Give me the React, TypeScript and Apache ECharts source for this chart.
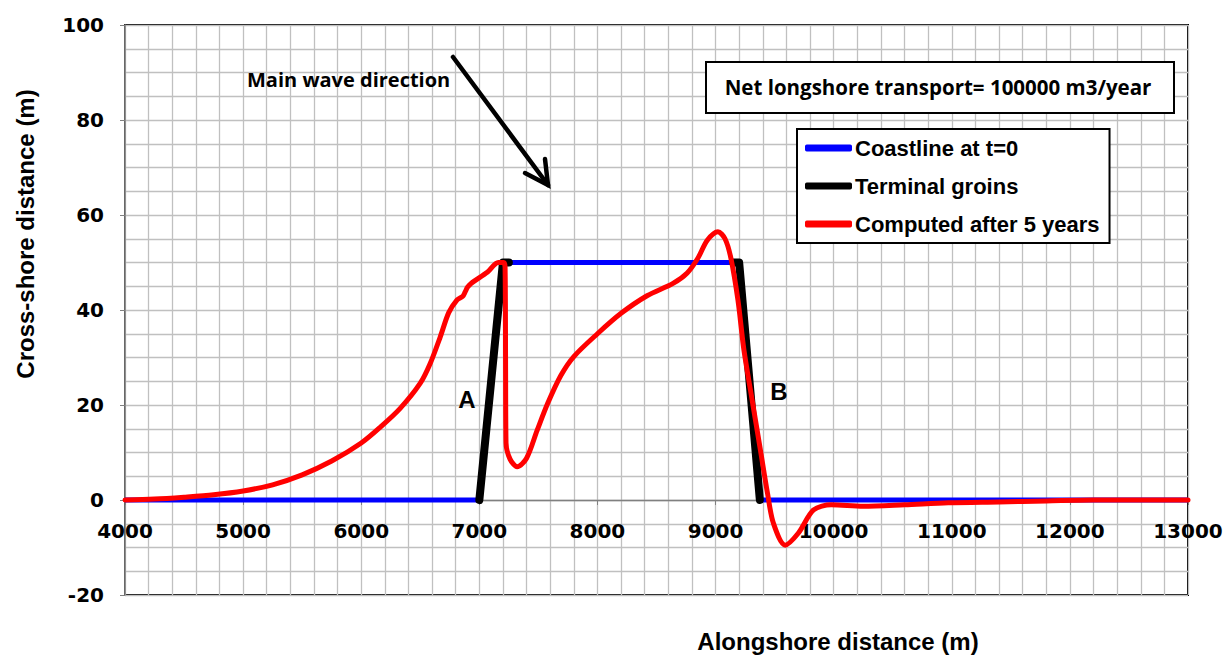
import React, { useEffect, useRef } from "react";
import * as echarts from "echarts";

const xTicks = { min: 4000, max: 13000, interval: 1000 };
const yTicks = { min: -20, max: 100, interval: 20 };

const coastlineT0: [number, number][] = [
  [4000, 0], [7000, 0], [7200, 50], [9200, 50], [9375, 0], [13000, 0],
];
const groinA: [number, number][] = [[7000, 0], [7200, 50], [7250, 50]];
const groinB: [number, number][] = [[9150, 50], [9200, 50], [9375, 0]];
const computed5y: [number, number][] = [
  [4000, 0], [4250, 0.2], [4500, 0.6], [4750, 1.1], [5000, 1.9], [5250, 3.2],
  [5500, 5.3], [5750, 8.2], [6000, 12], [6160, 15.3], [6330, 19.3], [6500, 24.6],
  [6585, 28.8], [6670, 34.4], [6740, 39.4], [6810, 42.1], [6860, 42.9], [6880, 43.8],
  [6900, 44.8], [6930, 45.6], [7070, 48], [7160, 50], [7205, 50], [7218, 49],
  [7222, 30], [7226, 12], [7260, 8.6], [7320, 7], [7400, 8.8], [7490, 14.7], [7580, 20.4],
  [7690, 26.2], [7800, 30.2], [8000, 35], [8200, 39.3], [8420, 43], [8640, 45.6],
  [8760, 47.8], [8850, 50.9], [8930, 54.7], [9020, 56.5], [9080, 55], [9130, 50.9],
  [9190, 42], [9240, 31.6], [9310, 21], [9380, 10.5], [9440, 1.4], [9490, -4.9],
  [9590, -9.5], [9700, -7], [9830, -2.1], [9980, -1], [10250, -1.3], [10600, -1],
  [10970, -0.6], [11400, -0.4], [11800, -0.2], [12200, 0], [13000, 0],
];

const seriesNames = ["Coastline at t=0", "Terminal groins", "Computed after 5 years"];
const seriesColors = ["#0000ff", "#000000", "#ff0000"];

const gridLine = { color: "#c0c0c0", width: 1.3 };

export default function App() {
  const ref = useRef<HTMLDivElement>(null);
  useEffect(() => {
    document.body.style.margin = "0";
    const chart = echarts.init(ref.current!, null, { renderer: "svg" });
    const axisFont = {
      fontFamily: "DejaVu Sans, sans-serif",
      fontWeight: "bold" as const,
      fontSize: 20,
      color: "#000",
    };
    chart.setOption({
      animation: false,
      backgroundColor: "#fff",
      grid: {
        left: 125, top: 25, right: 43, bottom: 60,
        show: true, borderColor: "#000", borderWidth: 2, backgroundColor: "#fff",
      },
      xAxis: {
        type: "value",
        min: xTicks.min, max: xTicks.max, interval: xTicks.interval,
        axisLine: { onZero: true, lineStyle: { color: "#808080", width: 1.3 } },
        axisTick: { show: true, length: 5, lineStyle: { color: "#808080" } },
        axisLabel: {
          ...axisFont, margin: -74, showMinLabel: true, showMaxLabel: true,
          formatter: (v: number) => String(v),
        },
        splitLine: { show: true, lineStyle: gridLine },
        minorTick: { show: false, splitNumber: 5 },
        minorSplitLine: { show: true, lineStyle: gridLine },
      },
      yAxis: {
        type: "value",
        min: yTicks.min, max: yTicks.max, interval: yTicks.interval,
        axisLine: { show: true, onZero: false, lineStyle: { color: "#808080", width: 1.5 } },
        axisTick: { show: true, length: 5, lineStyle: { color: "#808080" } },
        axisLabel: { ...axisFont, margin: 21 },
        splitLine: { show: true, lineStyle: gridLine },
        minorTick: { show: false, splitNumber: 4 },
        minorSplitLine: { show: true, lineStyle: gridLine },
      },
      legend: {
        left: 797, top: 129, orient: "vertical",
        backgroundColor: "#fff", borderColor: "#000", borderWidth: 2,
        padding: [8, 10, 8, 8],
        itemGap: 16, itemWidth: 47, itemHeight: 7,
        itemStyle: { borderWidth: 0 },
        textStyle: {
          fontFamily: "Liberation Sans, Arial, sans-serif", fontWeight: "bold",
          fontSize: 22, color: "#000", padding: [0, 0, 0, -2], lineHeight: 22,
        },
        data: seriesNames.map((n) => ({ name: n, icon: "roundRect" })),
        selectedMode: false,
      },
      series: [
        {
          name: seriesNames[0], type: "line", data: coastlineT0, showSymbol: false,
          lineStyle: { color: seriesColors[0], width: 5 }, itemStyle: { color: seriesColors[0] }, z: 2,
        },
        {
          name: seriesNames[1], type: "line", data: groinA, showSymbol: false,
          lineStyle: { color: seriesColors[1], width: 8, cap: "round", join: "round" },
          itemStyle: { color: seriesColors[1] }, z: 3,
        },
        {
          name: seriesNames[1], type: "line", data: groinB, showSymbol: false,
          lineStyle: { color: seriesColors[1], width: 8, cap: "round", join: "round" },
          itemStyle: { color: seriesColors[1] }, z: 3,
        },
        {
          name: seriesNames[2], type: "line", data: computed5y, showSymbol: false,
          smooth: 0.3,
          lineStyle: { color: seriesColors[2], width: 5, cap: "round", join: "round" },
          itemStyle: { color: seriesColors[2] }, z: 4,
        },
      ],
      graphic: [
        {
          type: "text", x: 25, y: 234, rotation: Math.PI / 2,
          style: {
            text: "Cross-shore distance (m)", fill: "#000",
            font: "bold 24px 'Liberation Sans', Arial, sans-serif",
            align: "center", verticalAlign: "middle",
          },
        },
        {
          type: "text", x: 838, y: 641,
          style: {
            text: "Alongshore distance (m)", fill: "#000",
            font: "bold 24px 'Liberation Sans', Arial, sans-serif",
            align: "center", verticalAlign: "middle",
          },
        },
        {
          type: "text", x: 247, y: 79, z: 11,
          style: {
            text: "Main wave direction", fill: "#000",
            font: "bold 20px 'Open Sans', sans-serif", align: "left", verticalAlign: "middle",
          },
        },
        {
          type: "line", z: 11, shape: { x1: 453, y1: 57, x2: 548, y2: 185 },
          style: { stroke: "#000", lineWidth: 4.5, lineCap: "round" },
        },
        {
          type: "polyline", z: 11, shape: { points: [[525, 173], [548, 185], [545, 159]] },
          style: { stroke: "#000", lineWidth: 4.5, lineCap: "round", lineJoin: "miter", fill: "none" },
        },
        {
          type: "rect", shape: { x: 706, y: 62, width: 468, height: 51 },
          style: { fill: "#fff", stroke: "#000", lineWidth: 2 }, z: 10,
        },
        {
          type: "text", x: 938, y: 87, z: 11,
          style: {
            text: "Net longshore transport= 100000 m3/year", fill: "#000",
            font: "bold 20.5px 'Open Sans', sans-serif", align: "center", verticalAlign: "middle",
          },
        },
        {
          type: "text", x: 467, y: 399, z: 11,
          style: {
            text: "A", fill: "#000", font: "bold 24px 'Liberation Sans', Arial, sans-serif",
            align: "center", verticalAlign: "middle",
          },
        },
        {
          type: "text", x: 779, y: 391, z: 11,
          style: {
            text: "B", fill: "#000", font: "bold 24px 'Liberation Sans', Arial, sans-serif",
            align: "center", verticalAlign: "middle",
          },
        },
      ],
    });
    return () => chart.dispose();
  }, []);
  return <div ref={ref} style={{ width: 1231, height: 655 }} />;
}
